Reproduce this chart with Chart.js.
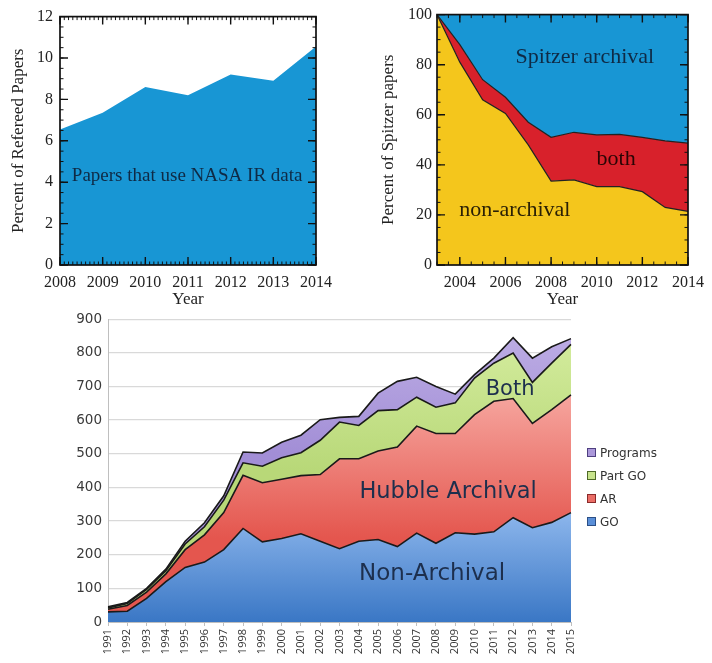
<!DOCTYPE html>
<html><head><meta charset="utf-8">
<script src="https://cdn.jsdelivr.net/npm/chart.js@4.4.0/dist/chart.umd.min.js"></script>
<style>
html,body{margin:0;padding:0;background:#fff;width:712px;height:663px;overflow:hidden;}
.box{position:absolute;}
#legend{position:absolute;left:587px;top:441px;font-family:'DejaVu Sans';font-size:12px;color:#333;}
#legend .row{height:23px;display:flex;align-items:center;}
#legend .sw{display:inline-block;width:7px;height:7px;border:1.5px solid #333;margin-right:4px;}
</style></head><body>
<div class="box" style="left:0;top:0;width:340px;height:310px"><canvas id="c1"></canvas></div>
<div class="box" style="left:360px;top:0;width:352px;height:310px"><canvas id="c2"></canvas></div>
<div class="box" style="left:0;top:305px;width:590px;height:358px"><canvas id="c3"></canvas></div>
<div id="legend"></div>
<script>
// ---------- data ----------
const nasaYears = [2008, 2009, 2010, 2011, 2012, 2013, 2014];
const nasaPercent = [6.55, 7.35, 8.6, 8.2, 9.2, 8.9, 10.55];

const spitzerYears = [2003, 2004, 2005, 2006, 2007, 2008, 2009, 2010, 2011, 2012, 2013, 2014];
const spitzerNonArchival = [100, 81, 66, 60.5, 48, 33.5, 34, 31.3, 31.3, 29.3, 23, 21.4];
const spitzerBoth = [0, 7, 8, 6.5, 9, 17.5, 19, 20.7, 20.9, 21.7, 26.6, 27.3];
const spitzerArchival = [0, 12, 26, 33, 43, 49, 47, 48, 47.8, 49, 50.4, 51.3];

const hstYears = ['1991','1992','1993','1994','1995','1996','1997','1998','1999','2000','2001','2002','2003',
  '2004','2005','2006','2007','2008','2009','2010','2011','2012','2013','2014','2015'];
const hstGO = [30, 32, 70, 120, 162, 178, 215, 278, 238, 248, 262, 240, 218, 240, 245, 224, 264, 234, 265, 261, 268, 310, 280, 296, 325];
const hstAR = [8, 17, 19, 23, 53, 81, 110, 158, 176, 176, 173, 198, 267, 245, 263, 296, 318, 326, 295, 355, 388, 354, 310, 335, 350];
const hstPartGO = [4, 6, 8, 9, 17, 24, 37, 37, 49, 64, 68, 102, 109, 99, 120, 111, 86, 78, 91, 109, 113, 135, 122, 138, 150];
const hstPrograms = [3, 3, 3, 5, 8, 12, 13, 32, 39, 46, 52, 61, 14, 27, 52, 84, 59, 62, 26, 10, 15, 46, 72, 49, 17];
const hstSeriesNames = ['GO', 'AR', 'Part GO', 'Programs'];

// ---------- plugins ----------
const idlFrame = {
  id: 'idlFrame',
  afterDatasetsDraw(chart, args, o) {
    if (!o || !o.on) return;
    const {ctx, chartArea: a, scales: {x, y}} = chart;
    ctx.save();
    ctx.strokeStyle = '#111';
    const marks = (scale, step, len, horiz) => {
      const start = Math.ceil(scale.min / step - 1e-9) * step;
      for (let v = start; v <= scale.max + 1e-9; v += step) {
        const p = scale.getPixelForValue(v);
        ctx.beginPath();
        if (horiz) {
          ctx.moveTo(p, a.bottom); ctx.lineTo(p, a.bottom - len);
          ctx.moveTo(p, a.top); ctx.lineTo(p, a.top + len);
        } else {
          ctx.moveTo(a.left, p); ctx.lineTo(a.left + len, p);
          ctx.moveTo(a.right, p); ctx.lineTo(a.right - len, p);
        }
        ctx.stroke();
      }
    };
    ctx.lineWidth = 1;
    marks(x, o.xMinor, 3.5, true);
    marks(y, o.yMinor, 3.5, false);
    ctx.lineWidth = 1.4;
    marks(x, o.xMajor, 8, true);
    marks(y, o.yMajor, 8, false);
    ctx.lineWidth = 1.7;
    ctx.strokeRect(a.left, a.top, a.width, a.height);
    ctx.restore();
  }
};
const notes = {
  id: 'notes',
  afterDatasetsDraw(chart, args, o) {
    if (!o || !o.items) return;
    const {ctx, scales: {x, y}} = chart;
    ctx.save();
    ctx.textAlign = 'center'; ctx.textBaseline = 'middle';
    for (const it of o.items) {
      ctx.font = it.font; ctx.fillStyle = it.color;
      ctx.fillText(it.text, x.getPixelForValue(it.x), y.getPixelForValue(it.y));
    }
    ctx.restore();
  }
};

const serif = 'Liberation Serif';
const tickSerif = {family: serif, size: 16};
const titleSerif = {family: serif, size: 17};

// ---------- chart 1 ----------
new Chart(document.getElementById('c1'), {
  type: 'line',
  data: {datasets: [{
    data: nasaYears.map((yr, i) => ({x: yr, y: nasaPercent[i]})),
    fill: 'origin', backgroundColor: '#1896d4', borderWidth: 0, pointRadius: 0, tension: 0
  }]},
  options: {
    responsive: true, maintainAspectRatio: false, animation: false,
    layout: {padding: {top: 14, right: 20, left: 0, bottom: 0}},
    plugins: {
      legend: {display: false}, tooltip: {enabled: false},
      idlFrame: {on: true, xMajor: 1, xMinor: 0.1, yMajor: 2, yMinor: 0.5},
      notes: {items: [{text: 'Papers that use NASA IR data', x: 2010.98, y: 4.3, font: `19px "${serif}"`, color: '#0f2a45'}]}
    },
    scales: {
      x: {type: 'linear', min: 2008, max: 2014,
        afterFit(s) { s.height = 45; },
        ticks: {stepSize: 1, padding: 8, color: '#222', font: tickSerif, callback: v => String(v)},
        grid: {display: false, drawTicks: false}, border: {display: false},
        title: {display: true, text: 'Year', color: '#222', font: titleSerif, padding: {top: 0, bottom: 0}}},
      y: {type: 'linear', min: 0, max: 12,
        afterFit(s) { s.width = 60; },
        ticks: {stepSize: 2, padding: 7, color: '#222', font: tickSerif},
        grid: {display: false, drawTicks: false}, border: {display: false},
        title: {display: true, text: 'Percent of Refereed Papers', color: '#222', font: titleSerif, padding: {top: 8, bottom: 0}}}
    }
  },
  plugins: [idlFrame, notes]
});

// ---------- chart 2 ----------
const sp = (arr) => spitzerYears.map((yr, i) => ({x: yr, y: arr[i]}));
new Chart(document.getElementById('c2'), {
  type: 'line',
  data: {datasets: [
    {label: 'non-archival', data: sp(spitzerNonArchival), fill: 'origin', backgroundColor: '#f4c61c', borderColor: '#222', borderWidth: 1.2, pointRadius: 0, tension: 0},
    {label: 'both', data: sp(spitzerBoth), fill: '-1', backgroundColor: '#d8212b', borderColor: '#222', borderWidth: 1.2, pointRadius: 0, tension: 0},
    {label: 'Spitzer archival', data: sp(spitzerArchival), fill: '-1', backgroundColor: '#1896d4', borderWidth: 0, pointRadius: 0, tension: 0}
  ]},
  options: {
    responsive: true, maintainAspectRatio: false, animation: false,
    layout: {padding: {top: 12, right: 17, left: 0, bottom: 0}},
    plugins: {
      legend: {display: false}, tooltip: {enabled: false},
      idlFrame: {on: true, xMajor: 2, xMinor: 0.5, yMajor: 20, yMinor: 5},
      notes: {items: [
        {text: 'Spitzer archival', x: 2009.48, y: 83, font: `22px "${serif}"`, color: '#0f2a45'},
        {text: 'both', x: 2010.85, y: 42.3, font: `22px "${serif}"`, color: '#2a0505'},
        {text: 'non-archival', x: 2006.41, y: 21.7, font: `22px "${serif}"`, color: '#2a2005'}
      ]}
    },
    scales: {
      x: {type: 'linear', min: 2003, max: 2014,
        afterFit(s) { s.height = 45; },
        ticks: {stepSize: 2, includeBounds: false, padding: 8, color: '#222', font: tickSerif, callback: v => String(v)},
        grid: {display: false, drawTicks: false}, border: {display: false},
        title: {display: true, text: 'Year', color: '#222', font: titleSerif, padding: {top: 0, bottom: 0}}},
      y: {type: 'linear', min: 0, max: 100, stacked: true,
        afterFit(s) { s.width = 77; },
        ticks: {stepSize: 20, padding: 5, color: '#222', font: tickSerif},
        grid: {display: false, drawTicks: false}, border: {display: false},
        title: {display: true, text: 'Percent of Spitzer papers', color: '#222', font: titleSerif, padding: {top: 18, bottom: 0}}}
    }
  },
  plugins: [idlFrame, notes]
});

// ---------- chart 3 ----------
function grad(ctxArg, top, bottom) {
  const chart = ctxArg.chart;
  if (!chart.chartArea) return top[1];
  const y = chart.scales.y;
  const g = chart.ctx.createLinearGradient(0, y.getPixelForValue(top[0]), 0, y.getPixelForValue(bottom[0]));
  g.addColorStop(0, top[1]); g.addColorStop(1, bottom[1]);
  return g;
}
const hstFill = [
  c => grad(c, [350, '#93bbef'], [0, '#3a77c5']),
  c => grad(c, [700, '#f7aaa3'], [250, '#e4564e']),
  c => grad(c, [850, '#d4ec9e'], [450, '#b8d878']),
  c => grad(c, [850, '#bcace4'], [500, '#a28ed6'])
];
const legendSw = [['#5a8fd8', '#2b4f86'], ['#ea6d66', '#8a2a2a'], ['#c8e48c', '#4f6a28'], ['#ab98da', '#4e3f80']];
const hstValues = [hstGO, hstAR, hstPartGO, hstPrograms];
new Chart(document.getElementById('c3'), {
  type: 'line',
  data: {labels: hstYears, datasets: hstValues.map((vals, i) => ({
    label: hstSeriesNames[i], data: vals, fill: i === 0 ? 'origin' : '-1',
    backgroundColor: hstFill[i], borderColor: '#1a1a1a', borderWidth: 1.6, pointRadius: 0, tension: 0
  }))},
  options: {
    responsive: true, maintainAspectRatio: false, animation: false,
    layout: {padding: {top: 12, right: 19, left: 0, bottom: 0}},
    plugins: {
      legend: {display: false}, tooltip: {enabled: false},
      notes: {items: [
        {text: 'Both', x: 2011.84 - 1991, y: 690, font: '21px "DejaVu Sans"', color: '#1d2f4d'},
        {text: 'Hubble Archival', x: 2008.63 - 1991, y: 387, font: '22.5px "DejaVu Sans"', color: '#1d2f4d'},
        {text: 'Non-Archival', x: 2007.8 - 1991, y: 142, font: '23px "DejaVu Sans"', color: '#1d2f4d'}
      ]}
    },
    scales: {
      x: {type: 'category', offset: false,
        afterFit(s) { s.height = 41; },
        ticks: {minRotation: 90, maxRotation: 90, autoSkip: false, padding: 3, color: '#333', font: {family: 'Open Sans', size: 11}},
        grid: {display: true, drawOnChartArea: false, drawTicks: true, tickLength: 4, color: '#bfbfbf'},
        border: {display: true, color: '#bfbfbf'}},
      y: {type: 'linear', min: 0, max: 900, stacked: true,
        afterFit(s) { s.width = 108; },
        ticks: {stepSize: 100, padding: 6, color: '#3a3a3a', font: {family: 'DejaVu Sans', size: 13.5}},
        grid: {color: '#d9d9d9', lineWidth: 1.2, drawTicks: false},
        border: {display: true, color: '#bfbfbf'}}
    }
  },
  plugins: [notes]
});

// HTML legend (reverse order like the reference)
const lg = document.getElementById('legend');
for (let i = hstSeriesNames.length - 1; i >= 0; i--) {
  const row = document.createElement('div'); row.className = 'row';
  const sw = document.createElement('span'); sw.className = 'sw';
  sw.style.background = legendSw[i][0]; sw.style.borderColor = legendSw[i][1];
  row.appendChild(sw); row.appendChild(document.createTextNode(hstSeriesNames[i]));
  lg.appendChild(row);
}
</script>
</body></html>
